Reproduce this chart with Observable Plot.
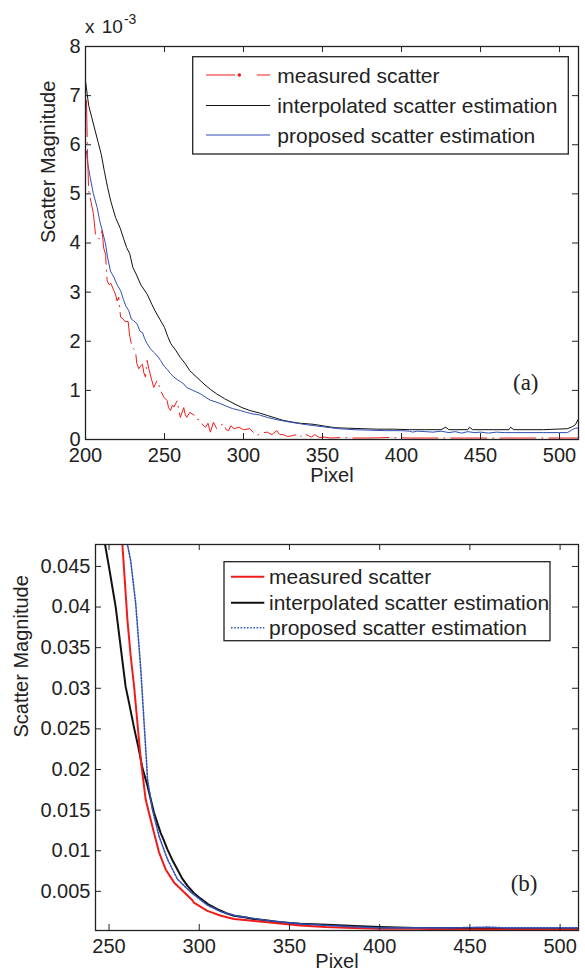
<!DOCTYPE html>
<html><head><meta charset="utf-8">
<script src="https://cdn.jsdelivr.net/npm/d3@7"></script>
<script src="https://cdn.jsdelivr.net/npm/@observablehq/plot@0.6"></script>
<style>
body{margin:0;background:#fff;width:585px;height:977px;position:relative;overflow:hidden;font-family:"Liberation Sans",Arial,sans-serif;color:#222}
#chartA,#chartB{position:absolute;left:0}
#chartA{top:0}
#chartB{top:500px}
.exp{position:absolute;left:85px;top:17px;font-size:19px;line-height:19px;white-space:nowrap;word-spacing:2px}
.exp span{font-size:14px;position:relative;top:-9px;margin-left:1px}
</style></head><body>
<div id="chartA"></div>
<div id="chartB"></div>
<div class="exp">x 10<span>-3</span></div>
<script>
// ---------------- data ----------------
const seriesNames = ["measured scatter", "interpolated scatter estimation", "proposed scatter estimation"];

// Panel (a): values in units of 1e-3
const aMeasuredPx = [200.6,201.3,202,203.6,205,206.3,207.5,208.5,210.5,211.5,212.7,213.7,215,216,218,219,220,221,222.2,224,225,227,228,229.5,231.6,232.5,233.7,235,236,237,238,239,240,241.6,243.2,245.3,246.5,247.5,249.6,251.7,252.5,253.8,255,256,258,260,262.2,263,264,266,268.6,270,272.8,274,276,277.5,279,281,283,285,287.5,289,290.5,292,294,297,300,304,306,308.6,311,315,318,321,323,325,328,331,334,336,338,341,343,345,348,351,355,362,370,380,392,405,420,440,460,480,500,512];
const aMeasured   = [6.9,5.8,5.06,4.82,4.6,4.18,4.12,4.08,4.25,3.9,3.77,3.23,3.15,3.18,3.03,2.95,2.82,2.9,2.49,2.45,2.4,2.4,2.1,1.88,1.81,1.55,1.44,1.5,1.53,1.35,1.27,1.61,1.45,1.25,1.06,1.2,1.1,1.0,0.86,0.79,0.65,0.59,0.7,0.66,0.79,0.45,0.65,0.52,0.45,0.55,0.5,0.42,0.39,0.3,0.25,0.33,0.15,0.35,0.22,0.28,0.32,0.2,0.18,0.28,0.22,0.25,0.2,0.22,0.15,0.08,0.13,0.15,0.1,0.18,0.1,0.1,0.06,0.08,0.1,0.05,0.12,0.08,0.05,0.1,0.04,0.05,0.03,0.04,0.03,0.03,0.04,0.03,0.03,0.03,0.03,0.03,0.03,0.03];

const aInterpPx = [200,201,202,204,206,208,210,212,214,216,219,222,224,226,228,230,232,235,239,242,244,247,250,252,254,257,260,263,266,270,275,279,283,288,294,299,304,310,315,320,325,330,336,344,352,358,366,375,385,395,405,415,425,428,430,442,443,445,468,469,471,490,505,508,510,512];
const aInterp   = [7.3,7.05,6.8,6.55,6.3,6.05,5.8,5.45,5.13,4.85,4.52,4.3,4.1,3.91,3.78,3.5,3.37,3.15,2.96,2.75,2.62,2.45,2.28,2.1,1.95,1.82,1.67,1.55,1.4,1.28,1.13,1.02,0.93,0.83,0.73,0.65,0.59,0.54,0.49,0.44,0.39,0.36,0.33,0.31,0.27,0.24,0.23,0.22,0.21,0.21,0.2,0.2,0.2,0.25,0.2,0.2,0.25,0.2,0.2,0.25,0.2,0.2,0.22,0.26,0.3,0.42];

const aProposedPx = [200.6,201.5,203,205,207.4,209,211,212.7,214,215.8,218,220,222.2,224,225.5,227.4,229,230.5,232.7,234.5,236,237.5,239,241,243,245,247.5,250,252,253.8,256,258,260,262.2,264,266,268,270,272.8,276,279,282,285.4,289,293,298,302,306,310,315,320,325,330,336,340,345,350,355,360,365,370,380,390,400,405,407,410,415,420,425,430,434,438,442,446,450,455,460,465,470,480,490,500,505,508,510,512];
const aProposed   = [5.87,5.6,5.33,5.0,4.72,4.45,4.2,3.98,3.7,3.43,3.3,3.15,3.03,2.85,2.72,2.62,2.45,2.42,2.35,2.2,2.18,2.05,1.95,1.85,1.78,1.72,1.61,1.48,1.42,1.34,1.27,1.22,1.18,1.13,1.06,1.03,1.0,0.97,0.93,0.86,0.8,0.77,0.73,0.68,0.63,0.59,0.55,0.52,0.5,0.45,0.41,0.38,0.35,0.32,0.3,0.28,0.26,0.24,0.22,0.21,0.2,0.19,0.18,0.18,0.17,0.15,0.17,0.16,0.15,0.17,0.14,0.16,0.13,0.16,0.14,0.15,0.13,0.15,0.14,0.14,0.14,0.14,0.14,0.14,0.2,0.23,0.23];

const aXTicks = [200,250,300,350,400,450,500];
const aYTicks = [0,1,2,3,4,5,6,7,8];

// Panel (b): absolute values
const bMeasuredPx = [256.5,257.4,260.2,262,263.9,267.6,270.3,274,277.7,281.4,286,291.6,296.2,297,304.5,312,319.3,328,337.8,346,356,370,385,400,420,440,460,480,500,511];
const bMeasured   = [0.049,0.0477,0.0384,0.034,0.0302,0.0212,0.0163,0.013,0.0098,0.0077,0.0061,0.0049,0.0039,0.0036,0.0026,0.002,0.0016,0.0014,0.0012,0.001,0.0008,0.0006,0.0005,0.0004,0.0004,0.0003,0.0003,0.0003,0.0003,0.0003];

const bInterpPx = [246,247.8,250,253.7,256.5,259.2,261.1,264,266.5,268.5,271.3,274.9,278.6,280.5,282.3,285,287.9,290.5,293.4,297,300.8,305,310,315,319.2,325,330,337.8,345,356,371,389.5,400,420,450,470,490,511];
const bInterp   = [0.0505,0.0477,0.0449,0.04,0.035,0.0302,0.0282,0.025,0.0225,0.0202,0.018,0.0147,0.0122,0.0112,0.0102,0.0089,0.0077,0.0066,0.0057,0.0048,0.0041,0.0034,0.0028,0.0023,0.002,0.0018,0.0016,0.0014,0.0012,0.001,0.0009,0.0007,0.0006,0.0005,0.0005,0.0004,0.0004,0.0004];

const bProposedPx = [259.5,260.2,262,264.8,267.6,270.9,271.3,274,277.7,282.3,287.9,295.3,304.5,312,320,338,356,380,400,440,460,470,480,511];
const bProposed   = [0.049,0.0477,0.0457,0.0404,0.0323,0.0205,0.0188,0.0151,0.0118,0.009,0.0065,0.0049,0.0033,0.0025,0.002,0.0014,0.001,0.0007,0.0005,0.0005,0.0006,0.0005,0.0005,0.0005];

const bXTicks = [250,300,350,400,450,500];
const bYTicks = [0.005,0.01,0.015,0.02,0.025,0.03,0.035,0.04,0.045];

// ---------------- helpers ----------------
const FONT = "Liberation Sans, Arial, sans-serif";
const INK = "#222";
const TICK = 6;
function frameAxes(xTicks, yTicks, yFormat, fw, fh) {
  const c = {stroke: INK, strokeWidth: 1, fontSize: 20, label: null, fontFamily: FONT, fill: INK};
  const r = {stroke: INK, strokeWidth: 1};
  return [
    Plot.axisX(xTicks, {...c, anchor: "bottom", tickSize: 0, tickPadding: 8}),
    Plot.axisY(yTicks, {...c, anchor: "left", tickSize: 0, tickPadding: 5, tickFormat: yFormat}),
    // inward ticks on all four sides (MATLAB box style)
    Plot.ruleX(xTicks, {...r, x: d => d, insetTop: fh - TICK}),
    Plot.ruleX(xTicks, {...r, x: d => d, insetBottom: fh - TICK}),
    Plot.ruleY(yTicks, {...r, y: d => d, insetRight: fw - TICK}),
    Plot.ruleY(yTicks, {...r, y: d => d, insetLeft: fw - TICK}),
    Plot.frame({stroke: INK, strokeWidth: 1.3})
  ];
}

// ---------------- chart (a) ----------------
const A = {width: 585, height: 500, marginLeft: 85, marginRight: 7, marginTop: 46, marginBottom: 61};
const chartA = Plot.plot({
  ...A,
  style: {fontFamily: FONT, background: "transparent", overflow: "visible"},
  x: {domain: [200, 512]},
  y: {domain: [0, 8]},
  marks: [
    Plot.line(aInterp, {x: aInterpPx, y: aInterp, stroke: "#111", strokeWidth: 1, clip: true}),
    Plot.line(aProposed, {x: aProposedPx, y: aProposed, stroke: "#2f4fb5", strokeWidth: 1, clip: true}),
    Plot.line(aMeasured, {x: aMeasuredPx, y: aMeasured, stroke: "#f01c1c", strokeWidth: 1, strokeDasharray: "36,6,1,6", clip: true}),
    ...frameAxes(aXTicks, aYTicks, d => String(d),
      A.width - A.marginLeft - A.marginRight, A.height - A.marginTop - A.marginBottom),
    Plot.text(["Pixel"], {frameAnchor: "bottom", dy: 42, fontSize: 20, fill: INK}),
    Plot.text(["Scatter Magnitude"], {frameAnchor: "left", rotate: -90, dx: -37, fontSize: 20, fill: INK}),
    Plot.text(["(a)"], {frameAnchor: "bottom-right", dx: -40, dy: -50, textAnchor: "end", fontSize: 23, fontFamily: "Liberation Serif, Times New Roman, serif", fill: INK})
  ]
});
document.getElementById("chartA").append(chartA);

// ---------------- chart (b) ----------------
const B = {width: 585, height: 477, marginLeft: 95, marginRight: 7, marginTop: 44, marginBottom: 47};
const chartB = Plot.plot({
  ...B,
  style: {fontFamily: FONT, background: "transparent", overflow: "visible"},
  x: {domain: [242.5, 510.2]},
  y: {domain: [0.00018, 0.0477]},
  marks: [
    Plot.line(bInterp, {x: bInterpPx, y: bInterp, stroke: "#111", strokeWidth: 2, clip: true}),
    Plot.line(bMeasured, {x: bMeasuredPx, y: bMeasured, stroke: "#f01c1c", strokeWidth: 2, clip: true}),
    Plot.line(bProposed, {x: bProposedPx, y: bProposed, stroke: "#2f4fb5", strokeWidth: 1.6, strokeDasharray: "1.6,1.6", clip: true}),
    ...frameAxes(bXTicks, bYTicks, d => String(+d.toFixed(3)),
      B.width - B.marginLeft - B.marginRight, B.height - B.marginTop - B.marginBottom),
    Plot.text(["Pixel"], {frameAnchor: "bottom", dy: 37, fontSize: 20, fill: INK}),
    Plot.text(["Scatter Magnitude"], {frameAnchor: "left", rotate: -90, dx: -74, fontSize: 20, fill: INK}),
    Plot.text(["(b)"], {frameAnchor: "bottom-right", dx: -41, dy: -40, textAnchor: "end", fontSize: 23, fontFamily: "Liberation Serif, Times New Roman, serif", fill: INK})
  ]
});
document.getElementById("chartB").append(chartB);

// ---------------- legends (MATLAB-style boxes) ----------------
const ov = d3.select("body").append("svg")
  .attr("width", 585).attr("height", 977)
  .style("position", "absolute").style("left", 0).style("top", 0)
  .style("pointer-events", "none")
  .style("font-family", FONT);

function legend(box, rows, sample, textX, styles) {
  ov.append("rect").attr("x", box[0]).attr("y", box[1]).attr("width", box[2]).attr("height", box[3])
    .attr("fill", "#fff").attr("stroke", INK).attr("stroke-width", 1.3);
  seriesNames.forEach((name, i) => {
    const y = rows[i];
    const s = styles[i];
    if (s.custom) s.custom(y);
    else ov.append("line").attr("x1", sample[0]).attr("x2", sample[1]).attr("y1", y).attr("y2", y)
      .attr("stroke", s.stroke).attr("stroke-width", s.width).attr("stroke-dasharray", s.dash || null);
    ov.append("text").attr("x", textX).attr("y", y).attr("dy", "0.36em")
      .attr("font-size", 21).attr("fill", INK).text(name);
  });
}

legend([192.7, 56.7, 375.6, 97.3], [75, 105.5, 135], [206, 270], 277.3, [
  {custom: y => {
    ov.append("line").attr("x1", 206).attr("x2", 235).attr("y1", y).attr("y2", y).attr("stroke", "#f01c1c").attr("stroke-width", 1);
    ov.append("circle").attr("cx", 239.3).attr("cy", y).attr("r", 1.8).attr("fill", "#f01c1c");
    ov.append("line").attr("x1", 256.7).attr("x2", 270).attr("y1", y).attr("y2", y).attr("stroke", "#f01c1c").attr("stroke-width", 1);
  }},
  {stroke: "#111", width: 1},
  {stroke: "#2f4fb5", width: 1}
]);

legend([224, 561.7, 326, 79], [576.7, 602.7, 627.7], [231, 264.3], 269, [
  {stroke: "#f01c1c", width: 2},
  {stroke: "#111", width: 2},
  {stroke: "#2f4fb5", width: 1.6, dash: "1.6,1.6"}
]);
</script>
</body></html>
